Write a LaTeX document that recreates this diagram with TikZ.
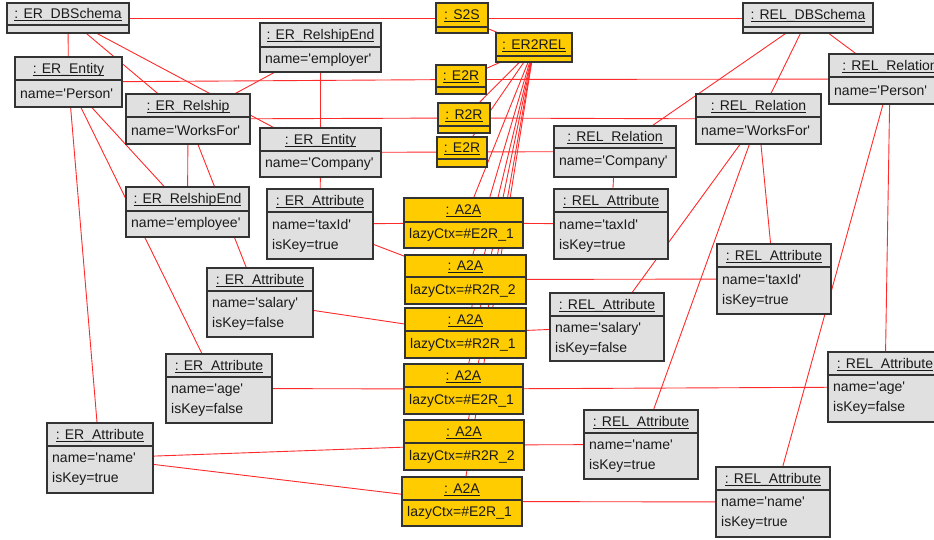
\documentclass[tikz,border=0pt]{standalone}
\usepackage{fontspec}
\setmainfont{Liberation Sans}[Ligatures=TeXOff]
\usetikzlibrary{fit,backgrounds}
\definecolor{boxgray}{HTML}{E0E0E0}
\definecolor{boxgold}{HTML}{FFCC00}
\definecolor{linkred}{HTML}{FF2A2A}
\definecolor{edgegray}{HTML}{333333}
\definecolor{txt}{HTML}{1A1A1A}
\newcommand{\utitle}[1]{\underline{\smash{#1}\vphantom{E}}}
\tikzset{
  objbox/.style={draw=edgegray, line width=1.3pt, inner sep=0pt},
  objline/.style={draw=edgegray, line width=1.3pt},
  titletext/.style={inner sep=0pt, text=txt, font=\fontsize{14}{20}\selectfont},
  attrtext/.style={inner sep=0pt, anchor=west, align=left, text=txt, font=\fontsize{14}{20}\selectfont},
  link/.style={draw=linkred, line width=0.9pt},
}
% #1 name, #2 x1, #3 y1, #4 x2, #5 y2, #6 divider y, #7 fill, #8 title, #9 attributes
\newcommand{\umlobj}[9]{%
  \node[objbox, fill=#7, fit={(#2,#3) (#4,#5)}] (#1) {};
  \draw[objline] (#2,#6) -- (#4,#6);
  \node[titletext] (#1-t) at ({(#2+#4)/2},{(#3+#6)/2+1}) {\utitle{#8}};
  \node[attrtext] (#1-a) at ({#2+5},{(#6+#5)/2}) {#9};
}
\begin{document}
\begin{tikzpicture}[x=1pt,y=-1pt]
\useasboundingbox (0,0) rectangle (934,539);
\clip (0,0) rectangle (934,539);
% ER side
\umlobj{erdb}{7}{3}{129}{33}{25}{boxgray}{: ER\_DBSchema}{}
\umlobj{erPerson}{15}{57}{122}{107}{80}{boxgray}{: ER\_Entity}{name='Person'}
\umlobj{erRel}{126}{94}{250}{144}{117}{boxgray}{: ER\_Relship}{name='WorksFor'}
\umlobj{erEmployer}{260}{23}{381}{72}{47}{boxgray}{: ER\_RelshipEnd}{name='employer'}
\umlobj{erCompany}{260}{128}{381}{177}{151}{boxgray}{: ER\_Entity}{name='Company'}
\umlobj{erEmployee}{126}{187}{249}{237}{211}{boxgray}{: ER\_RelshipEnd}{name='employee'}
\umlobj{erTax}{267}{189}{373}{259}{212}{boxgray}{: ER\_Attribute}{name='taxId'\\isKey=true}
\umlobj{erSalary}{207}{268}{313}{337}{291}{boxgray}{: ER\_Attribute}{name='salary'\\isKey=false}
\umlobj{erAge}{166}{354}{272}{423}{377}{boxgray}{: ER\_Attribute}{name='age'\\isKey=false}
\umlobj{erName}{47}{423}{153}{493}{446}{boxgray}{: ER\_Attribute}{name='name'\\isKey=true}
% mapping objects
\umlobj{s2s}{436}{3}{488}{33}{27}{boxgold}{: S2S}{}
\umlobj{er2rel}{496}{33}{572}{62}{56}{boxgold}{: ER2REL}{}
\umlobj{e2rA}{436}{65}{486}{94}{87}{boxgold}{: E2R}{}
\umlobj{r2r}{438}{103}{490}{133}{126}{boxgold}{: R2R}{}
\umlobj{e2rB}{437}{137}{487}{167}{159}{boxgold}{: E2R}{}
\umlobj{a1}{404}{198}{523}{248}{222}{boxgold}{: A2A}{lazyCtx=\#E2R\_1}
\umlobj{a2}{405}{255}{526}{304}{277}{boxgold}{: A2A}{lazyCtx=\#R2R\_2}
\umlobj{a3}{405}{308}{526}{358}{331}{boxgold}{: A2A}{lazyCtx=\#R2R\_1}
\umlobj{a4}{404}{364}{523}{414}{387}{boxgold}{: A2A}{lazyCtx=\#E2R\_1}
\umlobj{a5}{404}{420}{524}{470}{443}{boxgold}{: A2A}{lazyCtx=\#R2R\_2}
\umlobj{a6}{402}{477}{522}{526}{500}{boxgold}{: A2A}{lazyCtx=\#E2R\_1}
% REL side
\umlobj{reldb}{743}{3}{873}{33}{27}{boxgray}{: REL\_DBSchema}{}
\umlobj{relPerson}{829}{54}{951}{104}{77}{boxgray}{: REL\_Relation}{name='Person'}
\umlobj{relWF}{696}{94}{821}{144}{117}{boxgray}{: REL\_Relation}{name='WorksFor'}
\umlobj{relCompany}{554}{126}{676}{177}{148}{boxgray}{: REL\_Relation}{name='Company'}
\umlobj{relTaxC}{554}{189}{668}{259}{212}{boxgray}{: REL\_Attribute}{name='taxId'\\isKey=true}
\umlobj{relTaxW}{717}{244}{831}{314}{267}{boxgray}{: REL\_Attribute}{name='taxId'\\isKey=true}
\umlobj{relSalary}{550}{293}{664}{361}{316}{boxgray}{: REL\_Attribute}{name='salary'\\isKey=false}
\umlobj{relAge}{828}{352}{942}{422}{375}{boxgray}{: REL\_Attribute}{name='age'\\isKey=false}
\umlobj{relNameW}{584}{410}{698}{479}{433}{boxgray}{: REL\_Attribute}{name='name'\\isKey=true}
\umlobj{relNameP}{716}{467}{830}{537}{490}{boxgray}{: REL\_Attribute}{name='name'\\isKey=true}
\begin{scope}[on background layer]
  \fill[white] (0,0) rectangle (934,539);
  \draw[link] (erdb) -- (s2s);
  \draw[link] (s2s) -- (reldb);
  \draw[link] (s2s) -- (er2rel);
  \draw[link] (erdb) -- (erPerson);
  \draw[link] (erdb) -- (erRel);
  \draw[link] (erdb) -- (erCompany);
  \draw[link] (erPerson) -- (e2rA);
  \draw[link] (erPerson) -- (erEmployee);
  \draw[link] (erPerson) -- (erAge);
  \draw[link] (erPerson) -- (erName);
  \draw[link] (erRel) -- (erEmployer);
  \draw[link] (erRel) -- (erEmployee);
  \draw[link] (erRel) -- (erSalary);
  \draw[link] (erRel) -- (r2r);
  \draw[link] (erEmployer) -- (erCompany);
  \draw[link] (erCompany) -- (e2rB);
  \draw[link] (erCompany) -- (erTax);
  \foreach \t in {e2rA,r2r,e2rB,a1,a2,a3,a4,a5,a6}
    \draw[link] (er2rel) -- (\t);
  \draw[link] (e2rA) -- (relPerson);
  \draw[link] (r2r) -- (relWF);
  \draw[link] (e2rB) -- (relCompany);
  \draw[link] (erTax) -- (a1);
  \draw[link] (erTax) -- (a2);
  \draw[link] (erSalary) -- (a3);
  \draw[link] (erAge) -- (a4);
  \draw[link] (erName) -- (a5);
  \draw[link] (erName) -- (a6);
  \draw[link] (a1) -- (relTaxC);
  \draw[link] (a2) -- (relTaxW);
  \draw[link] (a3) -- (relSalary);
  \draw[link] (a4) -- (relAge);
  \draw[link] (a5) -- (relNameW);
  \draw[link] (a6) -- (relNameP);
  \draw[link] (reldb) -- (relPerson);
  \draw[link] (reldb) -- (relWF);
  \draw[link] (reldb) -- (relCompany);
  \draw[link] (relCompany) -- (relTaxC);
  \draw[link] (relWF) -- (relTaxW);
  \draw[link] (relWF) -- (relSalary);
  \draw[link] (relWF) -- (relNameW);
  \draw[link] (relPerson) -- (relAge);
  \draw[link] (relPerson) -- (relNameP);
\end{scope}
\end{tikzpicture}
\end{document}
